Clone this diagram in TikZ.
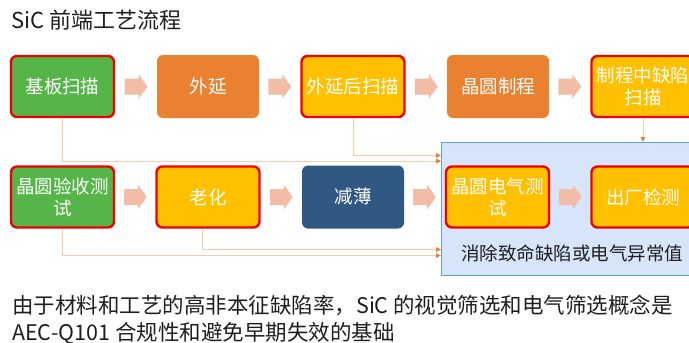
\documentclass[tikz,border=0pt]{standalone}
\usepackage{fontspec}
\setmainfont{Noto Sans CJK SC}
\usetikzlibrary{arrows.meta,calc}
\definecolor{cgreen}{HTML}{55B548}
\definecolor{corange}{HTML}{E98131}
\definecolor{cyellow}{HTML}{FFC000}
\definecolor{cnavy}{HTML}{2F5883}
\definecolor{cred}{HTML}{F00000}
\definecolor{cbarrow}{HTML}{F2BCA6}
\definecolor{cline}{HTML}{F5CBAA}
\definecolor{ctip}{HTML}{ED7D31}
\definecolor{cpanel}{HTML}{D7E5FA}
\definecolor{cpaneledge}{HTML}{5E9CEC}
\definecolor{ctext}{HTML}{1E1E1E}
\tikzset{
  blockarr/.pic={\fill[cbarrow] (-11.5,-8) -- (2.5,-8) -- (2.5,-12.5) -- (11.5,0) -- (2.5,12.5) -- (2.5,8) -- (-11.5,8) -- cycle;},
}
\begin{document}
\begin{tikzpicture}[x=1pt,y=-1pt,
  box/.style={rounded corners=6pt, minimum width=103pt, minimum height=61pt, text=white, align=center, font=\fontsize{18.5}{22}\selectfont, inner sep=0pt},
  redbox/.style={box, draw=cred, line width=2.4pt},
  plainbox/.style={box, minimum width=102pt, minimum height=63pt},
  flowline/.style={draw=cline, line width=0.9pt, -{Triangle[length=5pt,width=4.5pt,color=ctip]}},
]
\useasboundingbox (0,0) rectangle (689,343);
% title
\node[anchor=base west, inner sep=0pt, text=ctext, font=\fontsize{22}{24}\selectfont] (title) at (11,28) {SiC 前端工艺流程};
% panel
\node[anchor=north west, minimum width=262pt, minimum height=133pt, fill=cpanel, draw=cpaneledge, line width=1.3pt, inner sep=0pt] (panel) at (441,142) {};
\node[anchor=base, inner sep=0pt, text=ctext, font=\fontsize{18.5}{22}\selectfont] (paneltext) at (572,260) {消除致命缺陷或电气异常值};
% row 1
\node[redbox, fill=cgreen] (b1) at (62.5,86.5) {基板扫描};
\node[plainbox, fill=corange] (b2) at (208,86.5) {外延};
\node[redbox, fill=cyellow] (b3) at (353,86.5) {外延后扫描};
\node[plainbox, fill=corange] (b4) at (498,86.5) {晶圆制程};
\node[redbox, fill=cyellow] (b5) at (643,86.5) {制程中缺陷\\扫描};
% row 2
\node[redbox, fill=cgreen] (b6) at (62.5,197) {晶圆验收测\\试};
\node[redbox, fill=cyellow] (b7) at (208,197) {老化};
\node[plainbox, fill=cnavy] (b8) at (353,197) {减薄};
\node[redbox, fill=cyellow] (b9) at (497.5,197) {晶圆电气测\\试};
\node[redbox, fill=cyellow] (b10) at (643,197) {出厂检测};
% block arrows
\path ($(b1.east)!0.5!(b2.west)$) pic {blockarr};
\path ($(b2.east)!0.5!(b3.west)$) pic {blockarr};
\path ($(b3.east)!0.5!(b4.west)$) pic {blockarr};
\path ($(b4.east)!0.5!(b5.west)$) pic {blockarr};
\path ($(b6.east)!0.5!(b7.west)$) pic {blockarr};
\path ($(b7.east)!0.5!(b8.west)$) pic {blockarr};
\path ($(b8.east)!0.5!(b9.west)$) pic {blockarr};
\path ($(b9.east)!0.5!(b10.west)$) pic {blockarr};
% connector ends on panel
\coordinate (e3) at (441,155.5);
\coordinate (e1) at (441,161);
\coordinate (e7) at (441,249.5);
\coordinate (e6) at (441,255.5);
\coordinate (s7) at (202,230);
% connectors
\draw[flowline] (b3.south) |- (e3);
\draw[flowline] (b1.south) |- (e1);
\draw[flowline] (s7) |- (e7);
\draw[flowline] (b6.south) |- (e6);
\draw[flowline] (b5.south) -- (b5.south |- panel.north);
% note
\node[anchor=base west, align=left, inner sep=0pt, text=ctext, font=\fontsize{21.5}{27}\selectfont] (note) at (12,340) {由于材料和工艺的高非本征缺陷率，SiC 的视觉筛选和电气筛选概念是\\AEC-Q101 合规性和避免早期失效的基础};
\end{tikzpicture}
\end{document}
